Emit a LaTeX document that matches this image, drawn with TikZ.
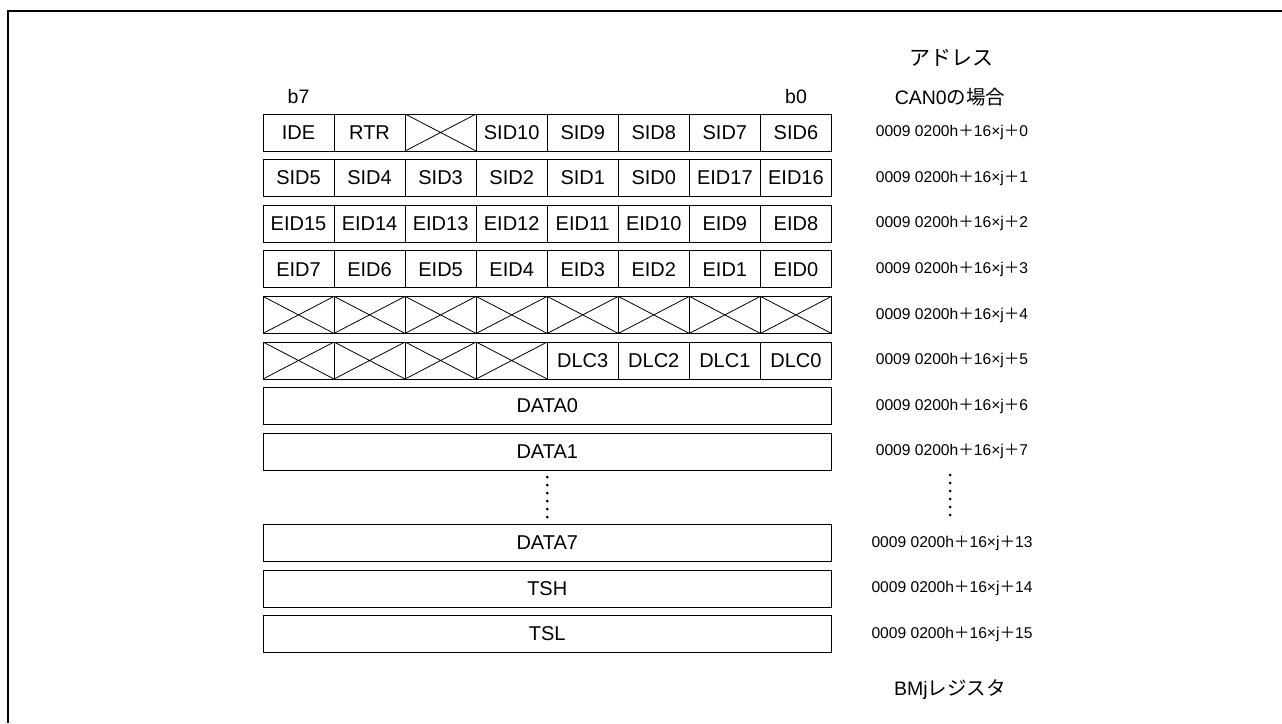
\documentclass[tikz,border=0pt]{standalone}
\usepackage{fontspec}
\usepackage{tikz}
\setmainfont{Liberation Sans}
\newfontfamily\jpfont{Noto Sans CJK JP}
\usetikzlibrary{positioning}

\newcommand{\bmaddr}[1]{0009 0200h{\jpfont ＋}16×j{\jpfont ＋}#1}

\begin{document}
\begin{tikzpicture}[
  x=1pt, y=-1pt,
  bitcell/.style={rectangle, draw, line width=1pt, minimum width=71pt, minimum height=37pt, inner sep=0pt, font=\fontsize{20}{24}\selectfont},
  nobit/.style={bitcell, path picture={\draw[line width=0.8pt] (path picture bounding box.north west) -- (path picture bounding box.south east) (path picture bounding box.south west) -- (path picture bounding box.north east);}},
  bytecell/.style={bitcell, minimum width=568.5pt},
  addrtext/.style={font=\fontsize{15.6}{18}\selectfont},
  head/.style={font=\fontsize{19.5}{23}\selectfont},
  vdots/.style={line width=3pt, line cap=round, dash pattern=on 0pt off 8pt},
  frame/.style={line width=2.5pt}
]
\useasboundingbox (0,0) rectangle (1282,723);

% Outer frame
\draw[frame] (8,723) -- (8,11) -- (1282,11);

% Headings
\node[head, font=\fontsize{21}{24}\selectfont] (adrhead) at (951,57.5) {{\jpfont アドレス}};
\node[head] (canhead) at (950,97) {CAN0{\jpfont の場合}};
\node[head] (b7) at (298.5,97) {b7};
\node[head] (b0) at (796,97) {b0};

% Row 0
\foreach \lbl [count=\c from 0] in {IDE, RTR}
  \node[bitcell] (r0c\c) at (298.5+71.06*\c, 132.5) {\lbl};
\node[nobit] (r0c2) at (440.6,132.5) {};
\foreach \lbl [count=\c from 3] in {SID10, SID9, SID8, SID7, SID6}
  \node[bitcell] (r0c\c) at (298.5+71.06*\c, 132.5) {\lbl};

% Row 1
\foreach \lbl [count=\c from 0] in {SID5, SID4, SID3, SID2, SID1, SID0, EID17, EID16}
  \node[bitcell] (r1c\c) at (298.5+71.06*\c, 178.1) {\lbl};

% Row 2
\foreach \lbl [count=\c from 0] in {EID15, EID14, EID13, EID12, EID11, EID10, EID9, EID8}
  \node[bitcell] (r2c\c) at (298.5+71.06*\c, 223.7) {\lbl};

% Row 3
\foreach \lbl [count=\c from 0] in {EID7, EID6, EID5, EID4, EID3, EID2, EID1, EID0}
  \node[bitcell] (r3c\c) at (298.5+71.06*\c, 269.3) {\lbl};

% Row 4 (no bits)
\foreach \c in {0,...,7}
  \node[nobit] (r4c\c) at (298.5+71.06*\c, 314.9) {};

% Row 5
\foreach \c in {0,...,3}
  \node[nobit] (r5c\c) at (298.5+71.06*\c, 360.5) {};
\foreach \lbl [count=\c from 4] in {DLC3, DLC2, DLC1, DLC0}
  \node[bitcell] (r5c\c) at (298.5+71.06*\c, 360.5) {\lbl};

% Byte rows
\node[bytecell] (data0) at (547.25,406.1) {DATA0};
\node[bytecell] (data1) at (547.25,451.7) {DATA1};
\node[bytecell] (data7) at (547.25,542.9) {DATA7};
\node[bytecell] (tsh) at (547.25,588.5) {TSH};
\node[bytecell] (tsl) at (547.25,634.1) {TSL};

% Addresses
\foreach \r/\n in {0/0, 1/1, 2/2, 3/3, 4/4, 5/5, 6/6, 7/7, 9/13, 10/14, 11/15}
  \node[addrtext] (addr\n) at (952, 132.5+45.6*\r) {\bmaddr{\n}};

% Omitted rows
\coordinate (ldtop) at (547.25,477);
\coordinate (ldbot) at (547.25,517);
\draw[vdots] (ldtop) -- (ldbot);
\coordinate (rdtop) at (950,475);
\coordinate (rdbot) at (950,515);
\draw[vdots] (rdtop) -- (rdbot);

\node[head] (bmjhead) at (950,690) {BMj{\jpfont レジスタ}};

\end{tikzpicture}
\end{document}
